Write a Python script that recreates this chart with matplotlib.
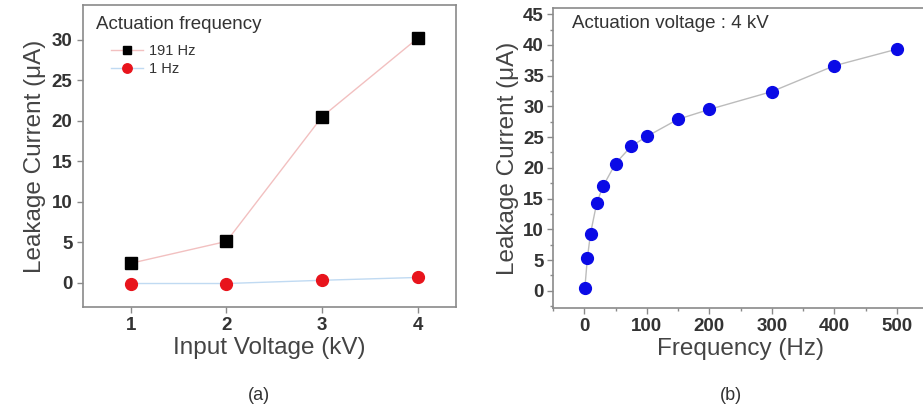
import numpy as np
import matplotlib.pyplot as plt
from matplotlib.ticker import MultipleLocator

plt.rcParams['font.family'] = ['Liberation Sans', 'DejaVu Sans']

# (a) leakage current vs input voltage
voltage = [1, 2, 3, 4]
current_191hz = [2.4, 5.1, 20.5, 30.2]
current_1hz = [-0.1, -0.1, 0.3, 0.65]

# (b) leakage current vs frequency at 4 kV
frequency = [1, 5, 10, 20, 30, 50, 75, 100, 150, 200, 300, 400, 500]
current_4kv = [0.5, 5.3, 9.3, 14.3, 17.0, 20.7, 23.5, 25.1, 27.9, 29.5, 32.4, 36.6, 39.3]

frame = '#8a8a8a'
tick_font = dict(fontsize=13.5, fontweight='bold', color='#333333')
label_size = 17.5

fig = plt.figure(figsize=(9.23, 4.09), dpi=100)
ax1 = fig.add_axes([83 / 923, 1 - 307 / 409, 373 / 923, 302 / 409])
ax2 = fig.add_axes([553 / 923, 1 - 308 / 409, 375 / 923, 300 / 409])

for ax in (ax1, ax2):
    for s in ax.spines.values():
        s.set_color(frame)
        s.set_linewidth(1.2)
    ax.tick_params(direction='out', color=frame, length=4.5, width=1, pad=3,
                   labelcolor='#333333')
    ax.tick_params(which='minor', direction='out', color=frame, length=2.5, width=1)

# panel (a)
ax1.plot(voltage, current_191hz, color='#f2c0c0', lw=1, marker='s', ms=8,
         mfc='black', mec='black', label='191 Hz', zorder=3)
ax1.plot(voltage, current_1hz, color='#c0daf2', lw=1, marker='o', ms=8.5,
         mfc='#e8141c', mec='#e8141c', label='1 Hz', zorder=3)
ax1.set_xlim(0.5, 4.4)
ax1.set_ylim(-3, 34.3)
ax1.set_xticks(voltage)
ax1.set_yticks(np.arange(0, 31, 5))
ax1.set_xticklabels([str(v) for v in voltage], **tick_font)
ax1.set_yticklabels([str(v) for v in range(0, 31, 5)], **tick_font)
ax1.set_xlabel('Input Voltage (kV)', fontsize=label_size, color='#444444', labelpad=2)
ax1.set_ylabel('Leakage Current (μA)', fontsize=label_size, color='#444444', labelpad=4)
ax1.text(0.035, 0.965, 'Actuation frequency', transform=ax1.transAxes,
         fontsize=13.5, color='#333333', va='top')
ax1.legend(loc='upper left', bbox_to_anchor=(0.06, 0.89), frameon=False,
           fontsize=10.5, handlelength=2.2, handletextpad=0.4, labelspacing=0.25,
           borderaxespad=0, markerscale=0.8, labelcolor='#333333')
fig.text(259 / 923, 1 - 396 / 409, '(a)', ha='center', va='center',
         fontsize=13, color='#333333')

# panel (b)
ax2.plot(frequency, current_4kv, color='#bcbcbc', lw=1, marker='o', ms=8.5,
         mfc='#0a0ae6', mec='#0a0ae6', zorder=3)
ax2.set_xlim(-50, 550)
ax2.set_ylim(-2.8, 46)
ax2.set_xticks(np.arange(0, 501, 100))
ax2.set_yticks(np.arange(0, 46, 5))
ax2.set_xticklabels([str(v) for v in range(0, 501, 100)], **tick_font)
ax2.set_yticklabels([str(v) for v in range(0, 46, 5)], **tick_font)
ax2.tick_params(axis='y', pad=2)
ax2.xaxis.set_minor_locator(MultipleLocator(50))
ax2.yaxis.set_minor_locator(MultipleLocator(2.5))
ax2.set_xlabel('Frequency (Hz)', fontsize=label_size, color='#444444', labelpad=2)
ax2.set_ylabel('Leakage Current (μA)', fontsize=label_size, color='#444444', labelpad=3)
ax2.text(0.05, 0.975, 'Actuation voltage : 4 kV', transform=ax2.transAxes,
         fontsize=13.5, color='#333333', va='top')
fig.text(731 / 923, 1 - 396 / 409, '(b)', ha='center', va='center',
         fontsize=13, color='#333333')

fig.savefig('out.png', dpi=100)
